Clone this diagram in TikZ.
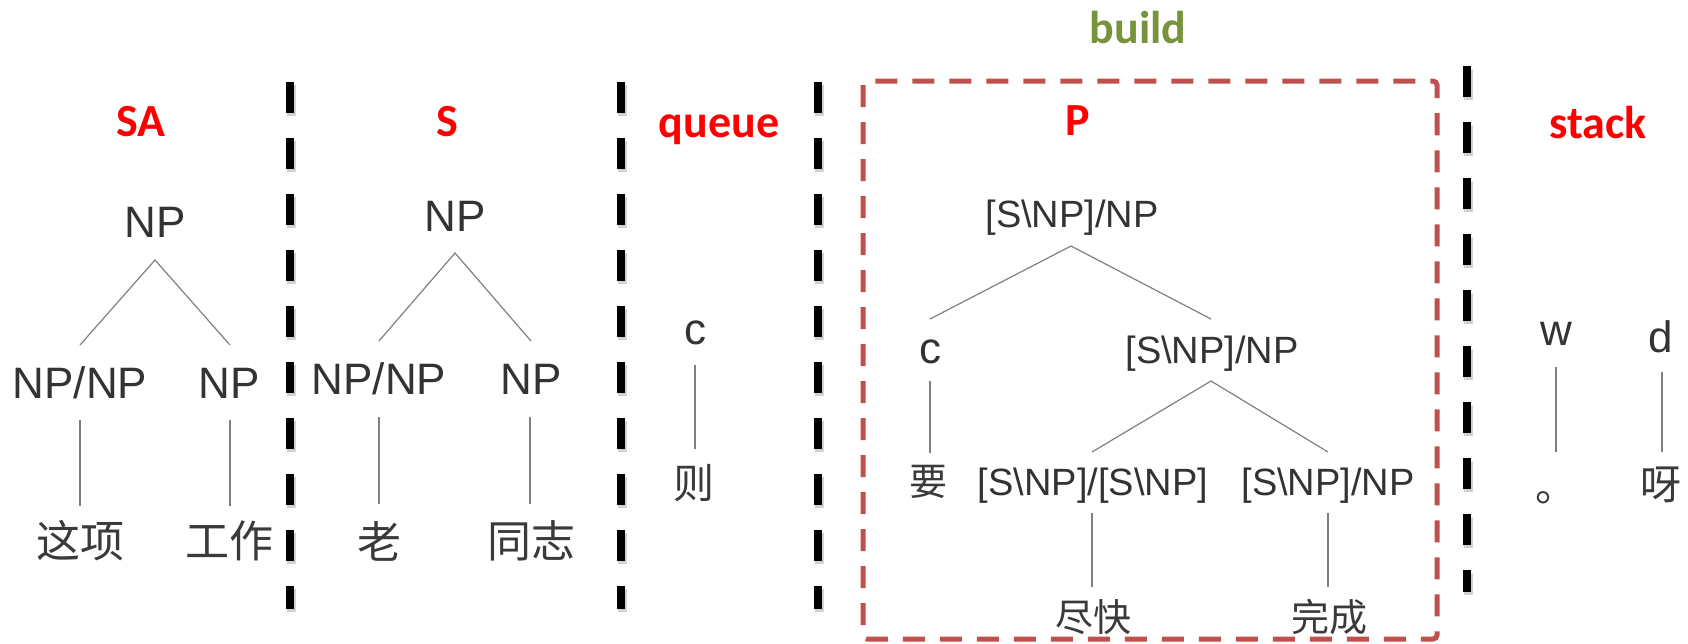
\documentclass[tikz,border=0pt]{standalone}
\usepackage{fontspec}
\setmainfont{Liberation Sans}
\newfontfamily\labfont{Carlito}
\newfontfamily\cjkfont{Noto Sans CJK SC}
\definecolor{txtgray}{HTML}{333333}
\definecolor{cjkgray}{HTML}{3A3A3A}
\definecolor{linegray}{HTML}{808080}
\definecolor{boxred}{HTML}{C0504D}
\definecolor{buildgreen}{HTML}{77933C}
\tikzset{
  cat/.style={anchor=base, text=txtgray, inner sep=0, font=\fontsize{44}{50}\selectfont},
  catsm/.style={anchor=base, text=txtgray, inner sep=0, font=\fontsize{38}{44}\selectfont},
  word/.style={anchor=center, text=cjkgray, inner sep=0, font=\cjkfont\fontsize{44}{50}\selectfont},
  wordmd/.style={anchor=center, text=cjkgray, inner sep=0, font=\cjkfont\fontsize{41}{46}\selectfont},
  wordsm/.style={anchor=center, text=cjkgray, inner sep=0, font=\cjkfont\fontsize{38}{44}\selectfont},
  region/.style={anchor=base, text=red, inner sep=0, font=\labfont\bfseries\fontsize{46}{52}\selectfont},
  treeline/.style={draw=linegray, line width=1.2},
  divider/.style={line width=8, dash pattern=on 31 off 25, black},
  dividershadow/.style={line width=9, dash pattern=on 31 off 25, black!18},
  buildbox/.style={draw=boxred, line width=5, dash pattern=on 22 off 15, rounded corners=4},
}
\newcommand{\bs}{\textbackslash}
\begin{document}
\begin{tikzpicture}[x=1pt,y=-1pt]
\useasboundingbox[fill=white] (0,0) rectangle (1688,643);

% ---------- dividers ----------
\foreach \xx/\ya/\yb in {290/82/609, 621/82/609, 818/82/609, 1467/66/592}{
  \draw[dividershadow] (\xx+1.5,\ya+3) -- (\xx+1.5,\yb+3);
  \draw[divider] (\xx,\ya) -- (\xx,\yb);
}

% ---------- build box ----------
\draw[buildbox] (863,81) rectangle (1437,639);
\node[region, text=buildgreen] (lbuild) at (1138,43) {build};

% ---------- SA ----------
\node[region] (lSA) at (141,136) {SA};
\node[cat] (sa0) at (155,237) {NP};
\node[cat] (sa1) at (80,398) {NP/NP};
\node[cat] (sa2) at (229,398) {NP};
\node[word] (saw1) at (80,541) {这项};
\node[word] (saw2) at (229,541) {工作};
\coordinate (sa0b) at (155,260);
\coordinate (sa1t) at (80,345);
\coordinate (sa2t) at (230,345);
\coordinate (sa1b) at (80,420);
\coordinate (saw1t) at (80,506);
\coordinate (sa2b) at (230,420);
\coordinate (saw2t) at (230,506);
\draw[treeline] (sa1t) -- (sa0b) -- (sa2t);
\draw[treeline] (sa1b) -- (saw1t);
\draw[treeline] (sa2b) -- (saw2t);

% ---------- S ----------
\node[region] (lS) at (447,136) {S};
\node[cat] (s0) at (455,231) {NP};
\node[cat] (s1) at (379,394) {NP/NP};
\node[cat] (s2) at (531,394) {NP};
\node[word] (sw1) at (379,541) {老};
\node[word] (sw2) at (531,541) {同志};
\coordinate (s0b) at (455,253);
\coordinate (s1t) at (379,341);
\coordinate (s2t) at (531,341);
\coordinate (s1b) at (379,417);
\coordinate (sw1t) at (379,504);
\coordinate (s2b) at (530,417);
\coordinate (sw2t) at (530,504);
\draw[treeline] (s1t) -- (s0b) -- (s2t);
\draw[treeline] (s1b) -- (sw1t);
\draw[treeline] (s2b) -- (sw2t);

% ---------- queue ----------
\node[region] (lqueue) at (719,137) {queue};
\node[cat] (q0) at (695,344) {c};
\node[wordmd] (qw0) at (694,483) {则};
\coordinate (q0b) at (695,365);
\coordinate (qw0t) at (695,449);
\draw[treeline] (q0b) -- (qw0t);

% ---------- P ----------
\node[region] (lP) at (1078,135) {P};
\node[catsm] (p0) at (1072,227) {[S\bs NP]/NP};
\node[cat] (p1) at (930,363) {c};
\node[catsm] (p2) at (1212,363) {[S\bs NP]/NP};
\node[wordsm] (pw1) at (928,482) {要};
\node[catsm] (p3) at (1093,495) {[S\bs NP]/[S\bs NP]};
\node[catsm] (p4) at (1328,495) {[S\bs NP]/NP};
\node[wordsm] (pw3) at (1093,617) {尽快};
\node[wordsm] (pw4) at (1329,617) {完成};
\coordinate (p0b) at (1071,246);
\coordinate (p1t) at (930,319);
\coordinate (p2t) at (1211,319);
\coordinate (p1b) at (930,381);
\coordinate (pw1t) at (930,453);
\coordinate (p2b) at (1211,381);
\coordinate (p3t) at (1092,452);
\coordinate (p4t) at (1328,452);
\coordinate (p3b) at (1092,513);
\coordinate (pw3t) at (1092,587);
\coordinate (p4b) at (1328,513);
\coordinate (pw4t) at (1328,587);
\draw[treeline] (p1t) -- (p0b) -- (p2t);
\draw[treeline] (p1b) -- (pw1t);
\draw[treeline] (p3t) -- (p2b) -- (p4t);
\draw[treeline] (p3b) -- (pw3t);
\draw[treeline] (p4b) -- (pw4t);

% ---------- stack ----------
\node[region] (lstack) at (1598,138) {stack};
\node[cat] (k1) at (1556,345) {w};
\node[cat] (k2) at (1661,352) {d};
\node[wordmd] (kw1) at (1556,498) {。};
\node[wordmd] (kw2) at (1661,485) {呀};
\coordinate (k1b) at (1556,367);
\coordinate (kw1t) at (1556,452);
\coordinate (k2b) at (1662,372);
\coordinate (kw2t) at (1662,452);
\draw[treeline] (k1b) -- (kw1t);
\draw[treeline] (k2b) -- (kw2t);
\end{tikzpicture}
\end{document}
